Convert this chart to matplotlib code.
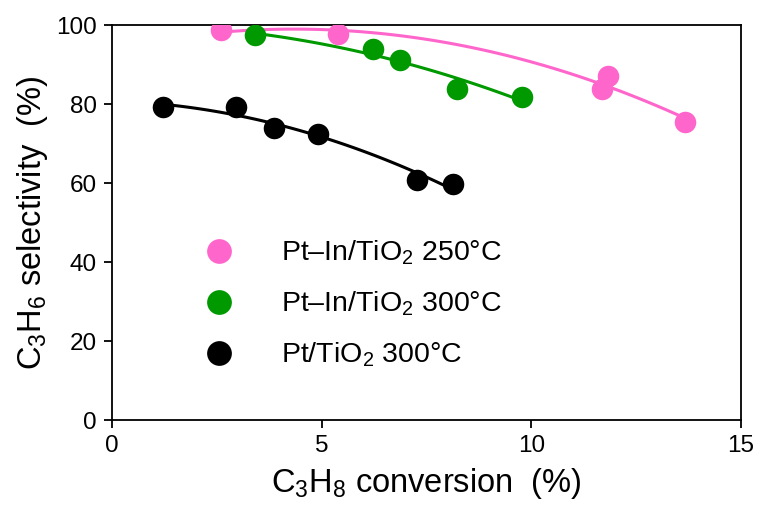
import numpy as np
import matplotlib
matplotlib.use("Agg")
import matplotlib.pyplot as plt

plt.rcParams['font.family'] = ['Liberation Sans', 'DejaVu Sans']
plt.rcParams['mathtext.fontset'] = 'custom'
plt.rcParams['mathtext.rm'] = 'Liberation Sans'
plt.rcParams['mathtext.it'] = 'Liberation Sans:italic'
plt.rcParams['mathtext.default'] = 'regular'

# conversion (%) vs selectivity (%) for each catalyst / temperature
ptin250_x = [2.60, 5.39, 11.69, 11.82, 13.66]
ptin250_y = [98.7, 97.7, 83.8, 87.0, 75.5]

ptin300_x = [3.41, 6.23, 6.87, 8.22, 9.77]
ptin300_y = [97.5, 93.9, 91.2, 83.9, 81.9]

pt300_x = [1.22, 2.96, 3.86, 4.90, 7.27, 8.12]
pt300_y = [79.2, 79.2, 73.9, 72.3, 60.8, 59.7]

labels = [r'Pt–In/TiO$_2$ 250°C', r'Pt–In/TiO$_2$ 300°C', r'Pt/TiO$_2$ 300°C']
colors = ['#FF66CC', '#009900', '#000000']

fig = plt.figure(figsize=(7.57, 5.11), dpi=100)
ax = fig.add_axes([0.148, 0.178, 0.831, 0.773])

series = [(ptin250_x, ptin250_y), (ptin300_x, ptin300_y), (pt300_x, pt300_y)]
for (xs, ys), lab, c in zip(series, labels, colors):
    xs = np.array(xs)
    ys = np.array(ys)
    # 2nd order trendline through each data set
    p = np.polyfit(xs, ys, 2)
    xf = np.linspace(xs.min(), xs.max(), 100)
    ax.plot(xf, np.polyval(p, xf), color=c, lw=2.2, zorder=2)
    ax.plot(xs, ys, 'o', color=c, ms=15.5, mec='none', label=lab, zorder=3)

ax.set_xlim(0, 15)
ax.set_ylim(0, 100)
ax.set_xticks([0, 5, 10, 15])
ax.set_yticks([0, 20, 40, 60, 80, 100])
ax.tick_params(direction='out', length=6, width=1.3, labelsize=17.5, pad=5)
for s in ax.spines.values():
    s.set_linewidth(1.3)

ax.set_xlabel(r'C$_3$H$_8$ conversion  (%)', fontsize=23.5, labelpad=6)
ax.set_ylabel(r'C$_3$H$_6$ selectivity  (%)', fontsize=23.5, labelpad=4)

ax.legend(loc='upper left', bbox_to_anchor=(0.129, 0.488), frameon=False,
          fontsize=20.5, handletextpad=1.7, labelspacing=0.79, markerscale=1.15,
          handlelength=1.0, borderaxespad=0)

fig.savefig('out.png', dpi=100)
